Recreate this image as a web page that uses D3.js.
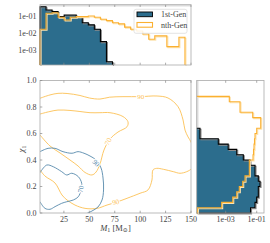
<!DOCTYPE html>
<html>
<head>
<meta charset="utf-8">
<script src="https://cdn.jsdelivr.net/npm/d3@7"></script>
<style>
body { margin: 0; background: #fff; }
text { font-family: "Liberation Serif", "DejaVu Serif", serif; }
</style>
</head>
<body>
<script>
// bins of the marginal histograms
const mEdges = [1.5, 7.44, 13.38, 19.32, 25.26, 31.2, 37.14, 43.08, 49.02, 54.96, 60.9, 66.84,
    72.78, 78.72, 84.66, 90.6, 96.54, 102.48, 108.42, 114.36, 120.3, 126.24, 132.18, 138.12, 144.06, 150];
const chiEdges = [0, 0.04, 0.08, 0.12, 0.16, 0.2, 0.24, 0.28, 0.32, 0.36, 0.4, 0.44, 0.48,
    0.52, 0.56, 0.6, 0.64, 0.68, 0.72, 0.76, 0.8, 0.84, 0.88, 0.92, 0.96, 1.0];

// top histogram (M1), fraction per bin
const firstGenM = [0.352, 0.225, 0.179, 0.091, 0.115, 0.115, 0.091, 0.040, 0.030, 0.0165, 0.0031, 0.0002,
    0, 0, 0, 0, 0, 0, 0, 0, 0, 0, 0, 0, 0];
const nthGenM = [0.0165, 0.144, 0.154, 0.084, 0.058, 0.084, 0.091, 0.091, 0.1, 0.084, 0.064, 0.053,
    0.040, 0.034, 0.022, 0.0165, 0.013, 0.0087, 0.0043, 0.0067, 0.0067, 0.00156, 0.00156, 0.0056, 0];

// right histogram (chi1), from chi=0 upwards
const firstGenChi = [0.04, 0.0778, 0.099, 0.127, 0.127, 0.164, 0.127, 0.0778, 0.0778, 0.037, 0.0137,
    0.00514, 0.00145, 0.000334, 2.2e-5, 2.2e-5, 0, 0, 0, 0, 0, 0, 0, 0, 0];
const nthGenChi = [1.5e-5, 5.5e-4, 0.00284, 0.00514, 0.00755, 0.0125, 0.0176, 0.0334, 0.0334, 0.0334,
    0.0579, 0.0623, 0.0671, 0.0722, 0.0779, 0.1, 0.1815, 0.1815, 0.0553, 0.0084, 0.0084, 0.00171, 0, 0, 0];

// credible contours [M1, chi1]
const firstGen90 = [[1.5, 0.463], [9.4, 0.488], [16.3, 0.488], [24.1, 0.463], [33, 0.451], [38.9, 0.463],
    [44.8, 0.451], [50.7, 0.43], [56.6, 0.4], [61.5, 0.34], [63.5, 0.264], [64, 0.174], [62.5, 0.098],
    [58.5, 0.045], [52.6, 0.015], [45.8, -0.01]];
const firstGen70 = [[1.5, 0.304], [8.1, 0.362], [14.6, 0.349], [22.8, 0.312], [27.8, 0.287], [32.7, 0.3],
    [39.2, 0.274], [42.5, 0.224], [41.8, 0.174], [39.2, 0.123], [34.2, 0.098], [27.8, 0.085],
    [22.8, 0.073], [16.3, 0.048], [11.3, 0.028], [6.4, 0.035], [1.5, 0.085]];
const nthGen90 = [[1.5, 0.866], [11.3, 0.891], [19.2, 0.903], [28.1, 0.902], [40.8, 0.887], [50, 0.868],
    [60.5, 0.86], [70, 0.874], [83.1, 0.878], [99.9, 0.878], [116.6, 0.883], [127.4, 0.868],
    [137.3, 0.802], [142.2, 0.702], [144.1, 0.626], [147.1, 0.574], [150, 0.536], [153, 0.47],
    [153, 0.4], [150.7, 0.337], [145.8, 0.312], [139.2, 0.3], [132.6, 0.312], [122.8, 0.33],
    [116.3, 0.337], [112.6, 0.325], [111.6, 0.249], [107.7, 0.174], [99.9, 0.149], [87.1, 0.111],
    [77.2, 0.083], [67.4, 0.06], [57.6, 0.035], [45.8, 0.035], [35.9, 0.06], [28.1, 0.098],
    [23.1, 0.136], [16.3, 0.226], [6.4, 0.279], [1.5, 0.325]];
const nthGen70 = [[1.5, 0.747], [11.3, 0.766], [19.2, 0.777], [31, 0.774], [40.8, 0.766], [50.7, 0.757],
    [60.5, 0.757], [70.3, 0.757], [83.1, 0.728], [88, 0.689], [87.1, 0.651], [78.2, 0.611],
    [70.3, 0.558], [64.4, 0.475], [60.5, 0.37], [56.6, 0.309], [52.6, 0.287], [45.8, 0.306],
    [38.9, 0.355], [31, 0.4], [21.2, 0.453], [11.3, 0.506], [1.5, 0.589]];

const contourLabels = [
    {text: "90", m: 100.5, chi: 0.878, angle: 0, gen: "nth"},
    {text: "70", m: 68.4, chi: 0.54, angle: -62, gen: "nth"},
    {text: "90", m: 76, chi: 0.083, angle: -14, gen: "nth"},
    {text: "90", m: 56.6, chi: 0.377, angle: 50, gen: "1st"},
    {text: "70", m: 41.6, chi: 0.18, angle: -80, gen: "1st"}
];

const mTicks = [25, 50, 75, 100, 125, 150];
const chiTicks = [0, 0.2, 0.4, 0.6, 0.8, 1.0];
const topLogTicks = [1e-1, 1e-2, 1e-3];
const rightLogTicks = [1e-3, 1e-1];

const teal = "#2c6d8d";
const orange = "#fbb030";
const blueLine = "#5689ab";
const orangeLine = "#fcc155";
const spine = "#aaaaaa";
const tickText = "#444";

window.onload = main;

function main() {
    const svg = d3.select("body").append("svg")
        .attr("width", 270).attr("height", 243);

    const x = d3.scaleLinear().domain([1.5, 150]).range([40, 191]);
    const y = d3.scaleLinear().domain([0, 1]).range([213, 80.5]);
    const yTop = d3.scaleLog().domain([1.3e-4, 0.46]).range([65, 4.7]);
    const xRight = d3.scaleLog().domain([1.35e-5, 0.295]).range([196.7, 264]);

    drawTop(svg, x, yTop);
    drawMain(svg, x, y);
    drawRight(svg, xRight, y);
}

function lastNonZero(vals) {
    let k = vals.length - 1;
    while (k > 0 && vals[k] <= 0) k--;
    return k;
}

// step outline for a histogram along a linear axis
function stepPoints(edges, vals, floor) {
    const last = lastNonZero(vals);
    const pts = [[edges[0], floor]];
    for (let i = 0; i <= last; i++) {
        const v = Math.max(vals[i], floor);
        pts.push([edges[i], v], [edges[i + 1], v]);
    }
    pts.push([edges[last + 1], floor]);
    return pts;
}

function drawStep(g, line, pts, opts) {
    if (opts.fill) {
        g.append("path").attr("d", line(pts) + "Z")
            .attr("fill", opts.fill).attr("stroke", "none");
    }
    g.append("path").attr("d", line(pts))
        .attr("fill", "none").attr("stroke", opts.shadow)
        .attr("stroke-width", 1.1)
        .attr("transform", "translate(1,1)");
    g.append("path").attr("d", line(pts))
        .attr("fill", "none").attr("stroke", opts.stroke)
        .attr("stroke-width", 1.1);
}

function frame(svg, x0, y0, x1, y1) {
    svg.append("rect")
        .attr("x", x0).attr("y", y0)
        .attr("width", x1 - x0).attr("height", y1 - y0)
        .attr("fill", "none").attr("stroke", spine).attr("stroke-width", 0.8);
}

function drawTop(svg, x, yTop) {
    const g = svg.append("g");
    const floor = yTop.domain()[0];
    g.append("rect").attr("x", 40).attr("y", 4.7).attr("width", 151).attr("height", 1.8)
        .attr("fill", "#dedede");

    const line = d3.line().x(d => x(d[0])).y(d => yTop(d[1]));
    drawStep(g, line, stepPoints(mEdges, firstGenM, floor), {fill: teal, stroke: "#000", shadow: "#8c8c8c"});
    drawStep(g, line, stepPoints(mEdges, nthGenM, floor), {stroke: orange, shadow: "#fde3b0"});

    frame(svg, 40, 4.7, 191, 65);

    // inward ticks
    mTicks.forEach(t => {
        g.append("line").attr("x1", x(t)).attr("x2", x(t)).attr("y1", 4.7).attr("y2", 7)
            .attr("stroke", "#888").attr("stroke-width", 0.7);
        g.append("line").attr("x1", x(t)).attr("x2", x(t)).attr("y1", 65).attr("y2", 62.7)
            .attr("stroke", "#888").attr("stroke-width", 0.7);
    });
    topLogTicks.forEach(t => {
        g.append("text").attr("x", 36.5).attr("y", yTop(t) + 2.8)
            .attr("text-anchor", "end").attr("font-size", 8).attr("fill", tickText)
            .text(d3.format(".0e")(t).replace("e-", "e-0"));
    });

    // legend
    const lg = svg.append("g");
    lg.append("rect").attr("x", 134).attr("y", 9.3).attr("width", 53).attr("height", 24)
        .attr("rx", 2).attr("fill", "#fff").attr("fill-opacity", 0.85)
        .attr("stroke", "#dddddd").attr("stroke-width", 0.8);
    lg.append("rect").attr("x", 137).attr("y", 12).attr("width", 15.5).attr("height", 4.7)
        .attr("fill", teal).attr("stroke", "#000").attr("stroke-width", 0.9);
    lg.append("rect").attr("x", 137).attr("y", 22.5).attr("width", 15.5).attr("height", 4.7)
        .attr("fill", "none").attr("stroke", orange).attr("stroke-width", 1.1);
    lg.append("text").attr("x", 161).attr("y", 17.3).attr("font-size", 8).attr("fill", tickText)
        .text("1st-Gen");
    lg.append("text").attr("x", 161).attr("y", 27.8).attr("font-size", 8).attr("fill", tickText)
        .text("nth-Gen");
}

function drawMain(svg, x, y) {
    svg.append("clipPath").attr("id", "mainClip")
        .append("rect").attr("x", 40).attr("y", 80.5).attr("width", 151).attr("height", 132.5);

    const g = svg.append("g").attr("clip-path", "url(#mainClip)");
    const line = d3.line().x(d => x(d[0])).y(d => y(d[1])).curve(d3.curveCatmullRom);

    const contours = [
        {pts: nthGen90, color: orangeLine},
        {pts: nthGen70, color: orangeLine},
        {pts: firstGen90, color: blueLine},
        {pts: firstGen70, color: blueLine}
    ];
    g.selectAll("path.contour")
        .data(contours)
        .join("path")
        .attr("class", "contour")
        .attr("d", d => line(d.pts))
        .attr("fill", "none")
        .attr("stroke", d => d.color)
        .attr("stroke-width", 0.9);

    g.selectAll("text.clabel")
        .data(contourLabels)
        .join("text")
        .attr("class", "clabel")
        .attr("transform", d => `translate(${x(d.m)},${y(d.chi)}) rotate(${d.angle})`)
        .attr("text-anchor", "middle")
        .attr("dy", "0.35em")
        .attr("font-size", 7)
        .attr("fill", d => d.gen === "1st" ? blueLine : orangeLine)
        .attr("stroke", "#fff").attr("stroke-width", 2.2)
        .attr("paint-order", "stroke")
        .text(d => d.text);

    frame(svg, 40, 80.5, 191, 213);

    mTicks.forEach(t => {
        svg.append("line").attr("x1", x(t)).attr("x2", x(t)).attr("y1", 213).attr("y2", 210.7)
            .attr("stroke", "#888").attr("stroke-width", 0.7);
        svg.append("line").attr("x1", x(t)).attr("x2", x(t)).attr("y1", 80.5).attr("y2", 82.8)
            .attr("stroke", "#888").attr("stroke-width", 0.7);
        svg.append("text").attr("x", x(t)).attr("y", 222)
            .attr("text-anchor", "middle").attr("font-size", 8).attr("fill", tickText)
            .text(t);
    });
    chiTicks.forEach(t => {
        svg.append("line").attr("x1", 40).attr("x2", 42.3).attr("y1", y(t)).attr("y2", y(t))
            .attr("stroke", "#888").attr("stroke-width", 0.7);
        svg.append("text").attr("x", 36.5).attr("y", y(t) + 2.8)
            .attr("text-anchor", "end").attr("font-size", 8).attr("fill", tickText)
            .text(d3.format(".1f")(t));
    });

    const xl = svg.append("text").attr("x", 115.5).attr("y", 230.5)
        .attr("text-anchor", "middle").attr("font-size", 8.5).attr("fill", tickText);
    xl.append("tspan").attr("font-style", "italic").text("M");
    xl.append("tspan").attr("font-size", 6).attr("dy", 1.8).text("1");
    xl.append("tspan").attr("dy", -1.8).text(" [M");
    xl.append("tspan").attr("font-size", 6).attr("dy", 1.8).text("⊙");
    xl.append("tspan").attr("dy", -1.8).text("]");

    const yl = svg.append("text").attr("transform", "translate(24,149) rotate(-90)")
        .attr("text-anchor", "middle").attr("font-size", 9).attr("fill", tickText);
    yl.append("tspan").attr("font-style", "italic").text("χ");
    yl.append("tspan").attr("font-size", 6).attr("dy", 1.8).text("1");
}

function drawRight(svg, xRight, y) {
    const g = svg.append("g");
    const floor = xRight.domain()[0];
    g.append("rect").attr("x", 196.7).attr("y", 80.5).attr("width", 1.8).attr("height", 132.5)
        .attr("fill", "#dedede");

    // histogram lies along chi: swap roles of the step points
    const line = d3.line().x(d => xRight(d[1])).y(d => y(d[0]));
    drawStep(g, line, stepPoints(chiEdges, firstGenChi, floor), {fill: teal, stroke: "#000", shadow: "#8c8c8c"});
    drawStep(g, line, stepPoints(chiEdges, nthGenChi, floor), {stroke: orange, shadow: "#fde3b0"});

    frame(svg, 196.7, 80.5, 264, 213);

    rightLogTicks.forEach(t => {
        svg.append("line").attr("x1", xRight(t)).attr("x2", xRight(t)).attr("y1", 213).attr("y2", 210.7)
            .attr("stroke", "#888").attr("stroke-width", 0.7);
        svg.append("line").attr("x1", xRight(t)).attr("x2", xRight(t)).attr("y1", 80.5).attr("y2", 82.8)
            .attr("stroke", "#888").attr("stroke-width", 0.7);
        svg.append("text").attr("x", xRight(t)).attr("y", 222)
            .attr("text-anchor", "middle").attr("font-size", 8).attr("fill", tickText)
            .text(d3.format(".0e")(t).replace("e-", "e-0"));
    });
}
</script>
</body>
</html>
